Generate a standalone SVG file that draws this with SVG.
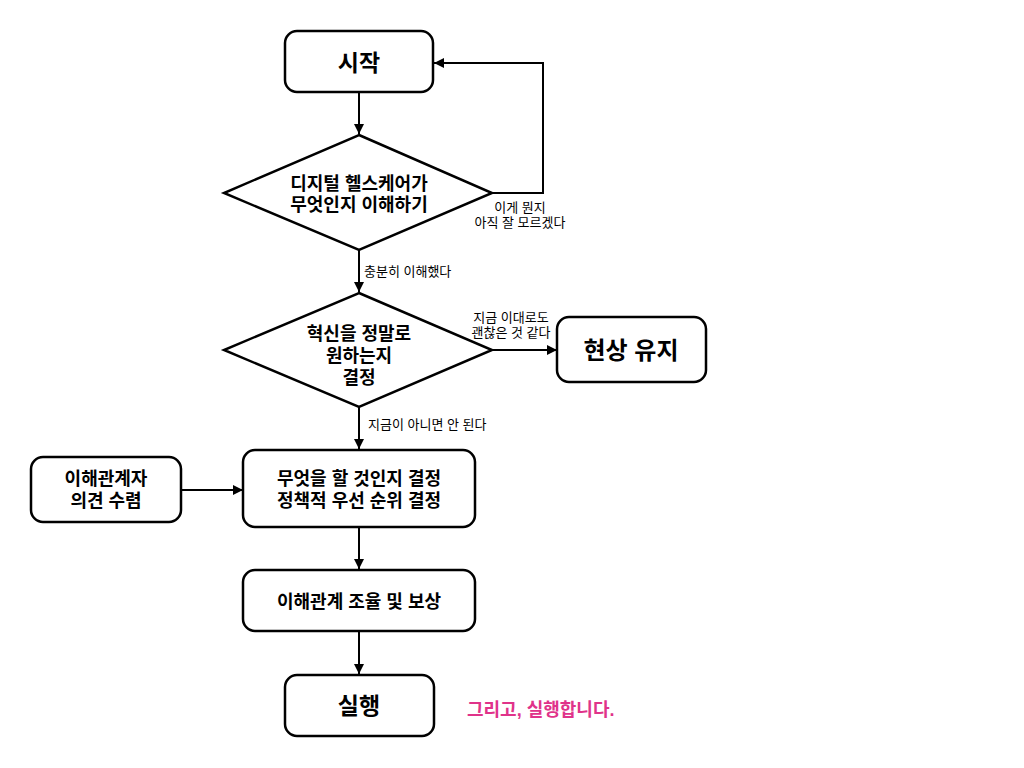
<svg xmlns="http://www.w3.org/2000/svg" width="1024" height="768" viewBox="0 0 1024 768">
<defs>
<marker id="ah" viewBox="0 0 10 10" refX="10" refY="5" markerWidth="10" markerHeight="10" markerUnits="userSpaceOnUse" orient="auto">
<path d="M0,0 L10,5 L0,10 z" fill="#000"/>
</marker>
<style>
.box{fill:#fff;stroke:#000;stroke-width:2.5}
.t{font-family:"Liberation Sans","Noto Sans CJK KR",sans-serif;font-weight:bold;fill:#000;text-anchor:middle}
.lbl{font-family:"Liberation Sans","Noto Sans CJK KR",sans-serif;font-size:13px;fill:#000}
.c{fill:none;stroke:#000;stroke-width:2;marker-end:url(#ah)}
</style>
</defs>
<rect width="1024" height="768" fill="#fff"/>
<g id="connectors">
<line class="c" x1="359" y1="92" x2="359" y2="134"/>
<polyline class="c" points="492,193 543,193 543,63 434,63"/>
<line class="c" x1="359" y1="250" x2="359" y2="292"/>
<line class="c" x1="492" y1="350" x2="557" y2="350"/>
<line class="c" x1="359" y1="407" x2="359" y2="449"/>
<line class="c" x1="181" y1="490" x2="243" y2="490"/>
<line class="c" x1="359" y1="527" x2="359" y2="569"/>
<line class="c" x1="359" y1="631" x2="359" y2="674"/>
<text class="lbl" text-anchor="middle"><tspan x="520" y="212">이게 뭔지</tspan><tspan x="520" y="227">아직 잘 모르겠다</tspan></text>
<text class="lbl" x="364" y="276">충분히 이해했다</text>
<text class="lbl" text-anchor="middle"><tspan x="511" y="322">지금 이대로도</tspan><tspan x="511" y="337">괜찮은 것 같다</tspan></text>
<text class="lbl" x="368" y="429">지금이 아니면 안 된다</text>
</g>
<g id="start">
<rect class="box" x="285" y="31" width="148" height="61" rx="12"/>
<text class="t" x="359" y="71" font-size="23">시작</text>
</g>
<g id="understand">
<polygon class="box" points="359,135 492,193 359,250 224,193"/>
<text class="t" font-size="18"><tspan x="359" y="190">디지털 헬스케어가</tspan><tspan x="359" y="211">무엇인지 이해하기</tspan></text>
</g>
<g id="decide">
<polygon class="box" points="359,293 492,350 359,407 224,350"/>
<text class="t" font-size="18"><tspan x="359" y="340">혁신을 정말로</tspan><tspan x="359" y="362">원하는지</tspan><tspan x="359" y="384">결정</tspan></text>
</g>
<g id="statusquo">
<rect class="box" x="557" y="317" width="149" height="65" rx="12"/>
<text class="t" x="631" y="359" font-size="24">현상 유지</text>
</g>
<g id="what">
<rect class="box" x="243" y="450" width="232" height="77" rx="12"/>
<text class="t" font-size="18"><tspan x="359" y="485">무엇을 할 것인지 결정</tspan><tspan x="359" y="507">정책적 우선 순위 결정</tspan></text>
</g>
<g id="stakeholders">
<rect class="box" x="31" y="457" width="150" height="65" rx="12"/>
<text class="t" font-size="18"><tspan x="106" y="485">이해관계자</tspan><tspan x="106" y="507">의견 수렴</tspan></text>
</g>
<g id="coordinate">
<rect class="box" x="243" y="570" width="232" height="61" rx="12"/>
<text class="t" x="359" y="608" font-size="18">이해관계 조율 및 보상</text>
</g>
<g id="execute">
<rect class="box" x="285" y="675" width="149" height="61" rx="12"/>
<text class="t" x="359" y="714" font-size="23">실행</text>
</g>
<text x="467" y="716" font-family="Liberation Sans,Noto Sans CJK KR,sans-serif" font-weight="bold" font-size="18" fill="#e0338a">그리고, 실행합니다.</text>
</svg>
